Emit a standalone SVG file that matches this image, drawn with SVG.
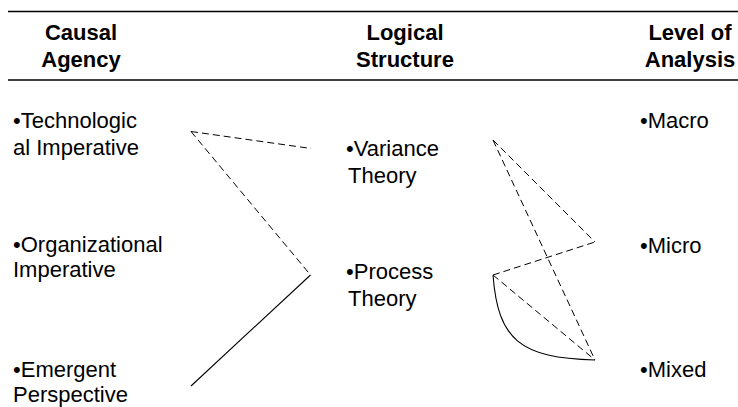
<svg xmlns="http://www.w3.org/2000/svg" width="738" height="407" viewBox="0 0 738 407">
<style>
.h{font-family:"Liberation Sans",Arial,sans-serif;font-size:22px;font-weight:bold;fill:#000;text-anchor:middle}
.t{font-family:"Liberation Sans",Arial,sans-serif;font-size:22px;fill:#000}
.rule{stroke:#000;stroke-width:1.3;fill:none}
.d{stroke:#000;stroke-width:1;fill:none;stroke-dasharray:7 4}
.s{stroke:#000;stroke-width:1.1;fill:none}
</style>
<rect width="738" height="407" fill="#fff"/>
<g id="header">
<line class="rule" x1="8" y1="11.5" x2="738" y2="11.5"/>
<line class="rule" x1="8" y1="80" x2="738" y2="80"/>
<text class="h" x="81" y="40">Causal</text>
<text class="h" x="81" y="67">Agency</text>
<text class="h" x="405" y="40">Logical</text>
<text class="h" x="405" y="67">Structure</text>
<text class="h" x="690" y="40">Level of</text>
<text class="h" x="690" y="67">Analysis</text>
</g>
<g id="tech"><text class="t" x="13" y="128">•Technologic</text><text class="t" x="13" y="155">al Imperative</text></g>
<g id="org"><text class="t" x="13" y="252">•Organizational</text><text class="t" x="13" y="277">Imperative</text></g>
<g id="emergent"><text class="t" x="13" y="377">•Emergent</text><text class="t" x="13" y="402">Perspective</text></g>
<g id="variance"><text class="t" x="346" y="156">•Variance</text><text class="t" x="348" y="183">Theory</text></g>
<g id="process"><text class="t" x="346" y="279">•Process</text><text class="t" x="348" y="306">Theory</text></g>
<g id="macro"><text class="t" x="640" y="128">•Macro</text></g>
<g id="micro"><text class="t" x="640" y="253">•Micro</text></g>
<g id="mixed"><text class="t" x="640" y="377">•Mixed</text></g>
<g id="connectors">
<line class="d" x1="191" y1="131.5" x2="311" y2="148.5"/>
<line class="d" x1="191" y1="131.5" x2="310.5" y2="275"/>
<line class="s" x1="310.5" y1="275" x2="191" y2="386"/>
<line class="d" x1="493" y1="140" x2="595" y2="242"/>
<line class="d" x1="493" y1="140" x2="595" y2="360"/>
<line class="d" x1="493" y1="275" x2="595" y2="242"/>
<line class="d" x1="493" y1="275" x2="595" y2="360"/>
<path class="s" d="M493,275 C498,340 520,358 595,360"/>
</g>
</svg>
